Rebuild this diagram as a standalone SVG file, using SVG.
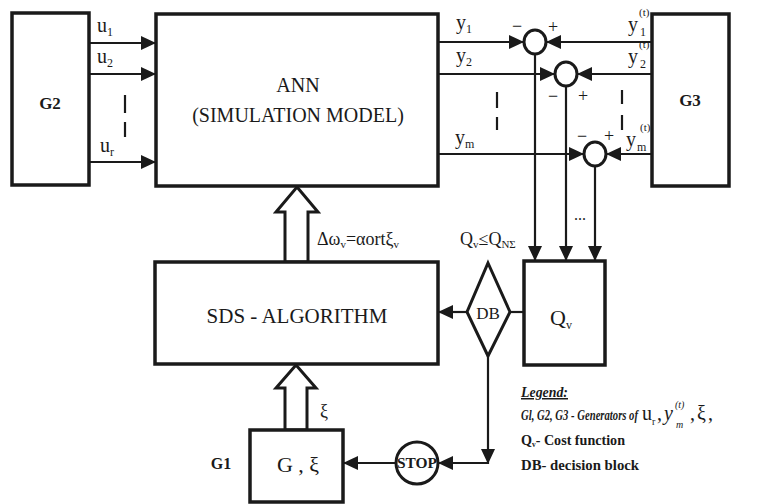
<svg xmlns="http://www.w3.org/2000/svg" width="758" height="504" viewBox="0 0 758 504">
<defs>
<marker id="ah" markerUnits="userSpaceOnUse" markerWidth="15" markerHeight="14" refX="15" refY="7" orient="auto">
<path d="M0,0 L15,7 L0,14 z" fill="#1a1a1a"/>
</marker>
</defs>
<style>
.box{fill:#fff;stroke:#1a1a1a;stroke-width:3.5}
.ln{fill:none;stroke:#1a1a1a;stroke-width:2.2}
.ar{marker-end:url(#ah)}
.t{font-family:'Liberation Serif','Tinos','Times New Roman','DejaVu Serif',serif;fill:#1a1a1a}
.b{font-weight:bold}
.m{text-anchor:middle}
.lg{font-family:'Liberation Serif','Tinos','Times New Roman','DejaVu Serif',serif;font-weight:bold;font-style:italic;font-size:15px;fill:#1a1a1a}
.lb{font-family:'Liberation Serif','Tinos','Times New Roman','DejaVu Serif',serif;font-weight:bold;font-size:15px;fill:#1a1a1a}
</style>
<rect width="758" height="504" fill="#fff"/>

<g id="connectors">
<line class="ln ar" x1="89" y1="43" x2="156" y2="43"/>
<line class="ln ar" x1="89" y1="74" x2="156" y2="74"/>
<line class="ln ar" x1="89" y1="162" x2="156" y2="162"/>
<line class="ln ar" x1="438" y1="42" x2="524" y2="42"/>
<line class="ln ar" x1="652" y1="42" x2="546" y2="42"/>
<line class="ln ar" x1="438" y1="74" x2="555" y2="74"/>
<line class="ln ar" x1="652" y1="74" x2="577" y2="74"/>
<line class="ln ar" x1="438" y1="154" x2="584" y2="154"/>
<line class="ln ar" x1="652" y1="154" x2="606" y2="154"/>
<line class="ln ar" x1="535" y1="54" x2="535" y2="261"/>
<line class="ln ar" x1="566" y1="86" x2="566" y2="261"/>
<line class="ln ar" x1="595" y1="166" x2="595" y2="261"/>
<line class="ln" x1="524" y1="312" x2="510" y2="312"/>
<line class="ln ar" x1="467" y1="312" x2="438" y2="312"/>
<line class="ln ar" x1="488" y1="356" x2="488" y2="464"/>
<line class="ln ar" x1="489" y1="463" x2="438" y2="463"/>
<line class="ln ar" x1="396" y1="463" x2="343" y2="463"/>
<polygon points="297,187 318,212 308,212 308,262 285,262 285,212 276,212" fill="#fff" stroke="#1a1a1a" stroke-width="3" stroke-linejoin="miter"/>
<polygon points="296,365 316,388 307,388 307,430 285,430 285,388 276,388" fill="#fff" stroke="#1a1a1a" stroke-width="3" stroke-linejoin="miter"/>
<g class="ln">
<line x1="125" y1="95" x2="125" y2="113"/>
<line x1="125" y1="122" x2="125" y2="137"/>
<line x1="497" y1="92" x2="497" y2="108"/>
<line x1="497" y1="117" x2="497" y2="130"/>
<line x1="622" y1="90" x2="622" y2="104"/>
<line x1="622" y1="115" x2="622" y2="130"/>
</g>
</g>

<g id="G2">
<rect class="box" x="12" y="13" width="77" height="172"/>
<text class="t b m" x="50" y="109" font-size="17">G2</text>
</g>

<g id="ANN">
<rect class="box" x="156" y="14" width="282" height="172"/>
<text class="t m" x="298" y="92" font-size="20">ANN</text>
<text class="t m" x="298" y="122" font-size="20">(SIMULATION MODEL)</text>
</g>

<g id="G3">
<rect class="box" x="652" y="14" width="77" height="172"/>
<text class="t b m" x="690" y="106" font-size="17">G3</text>
</g>

<g id="sum1">
<ellipse cx="535" cy="42" rx="11" ry="12" fill="#fff" stroke="#1a1a1a" stroke-width="3"/>
</g>
<g id="sum2">
<ellipse cx="566" cy="74" rx="11" ry="12" fill="#fff" stroke="#1a1a1a" stroke-width="3"/>
</g>
<g id="sum3">
<ellipse cx="595" cy="154" rx="11" ry="12" fill="#fff" stroke="#1a1a1a" stroke-width="3"/>
</g>

<g id="SDS">
<rect class="box" x="155" y="262" width="283" height="102"/>
<text class="t m" x="297" y="323" font-size="21">SDS - ALGORITHM</text>
</g>

<g id="Qv">
<rect class="box" x="524" y="261" width="81" height="104"/>
<text class="t" x="550" y="325" font-size="22">Q<tspan font-size="12" dy="4">v</tspan></text>
</g>

<g id="DB">
<polygon points="488,263 510,312 488,356 467,312" fill="#fff" stroke="#1a1a1a" stroke-width="3"/>
<text class="t m" x="488" y="319" font-size="17">DB</text>
</g>

<g id="STOP">
<ellipse cx="417" cy="463" rx="21" ry="21" fill="#fff" stroke="#1a1a1a" stroke-width="3"/>
<text class="t b m" x="417" y="468" font-size="14" textLength="40" lengthAdjust="spacingAndGlyphs">STOP</text>
</g>

<g id="G1">
<rect class="box" x="250" y="430" width="93" height="72"/>
<text class="t m" x="298" y="472" font-size="22">G , ξ</text>
<text class="t b m" x="221" y="469" font-size="16">G1</text>
</g>

<g id="labels">
<text class="t" x="97" y="32" font-size="20">u<tspan font-size="12" dy="4">1</tspan></text>
<text class="t" x="97" y="63" font-size="20">u<tspan font-size="12" dy="4">2</tspan></text>
<text class="t" x="100" y="152" font-size="20">u<tspan font-size="12" dy="4">r</tspan></text>
<text class="t" x="456" y="29" font-size="20">y<tspan font-size="12" dy="4">1</tspan></text>
<text class="t" x="456" y="62" font-size="20">y<tspan font-size="12" dy="4">2</tspan></text>
<text class="t" x="455" y="144" font-size="20">y<tspan font-size="12" dy="4">m</tspan></text>
<text class="t" x="628" y="31" font-size="20">y<tspan x="639" y="16" font-size="11">(t)</tspan><tspan x="640" y="36" font-size="12">1</tspan></text>
<text class="t" x="628" y="63" font-size="20">y<tspan x="639" y="48" font-size="11">(t)</tspan><tspan x="640" y="68" font-size="12">2</tspan></text>
<text class="t" x="626" y="146" font-size="20">y<tspan x="640" y="131" font-size="11">(t)</tspan><tspan x="637" y="151" font-size="12">m</tspan></text>
<text class="t m" x="517" y="32" font-size="18">−</text>
<text class="t m" x="553" y="33" font-size="18">+</text>
<text class="t m" x="553" y="102" font-size="18">−</text>
<text class="t m" x="583" y="102" font-size="18">+</text>
<text class="t m" x="582" y="142" font-size="18">−</text>
<text class="t m" x="609" y="142" font-size="18">+</text>
<text class="t m" x="580" y="220" font-size="16">...</text>
<text class="t" x="317" y="245" font-size="18">Δω<tspan font-size="11" dy="3">v</tspan><tspan dy="-3">=αortξ</tspan><tspan font-size="11" dy="3">v</tspan></text>
<text class="t" x="460" y="245" font-size="18">Q<tspan font-size="11" dy="3">v</tspan><tspan dy="-3">≤Q</tspan><tspan font-size="11" dy="3">NΣ</tspan></text>
<text class="t" x="320" y="417" font-size="18">ξ</text>
</g>

<g id="legend">
<text class="lg" x="521" y="397" textLength="47" lengthAdjust="spacingAndGlyphs" text-decoration="underline">Legend:</text>
<text class="lg" x="521" y="420" textLength="117" lengthAdjust="spacingAndGlyphs">Gl, G2, G3 - Generators of</text>
<text class="t" x="642" y="420" font-size="20">u<tspan x="652" y="425" font-size="10">r</tspan><tspan x="657" y="420">,</tspan><tspan x="664" y="420" font-style="italic">y</tspan><tspan x="675" y="408" font-size="10" font-style="italic">(t)</tspan><tspan x="676" y="428" font-size="10" font-style="italic">m</tspan><tspan x="690" y="420">,</tspan><tspan x="697" y="420">ξ</tspan><tspan x="708" y="420">,</tspan></text>
<text class="lb" x="521" y="445" textLength="104" lengthAdjust="spacingAndGlyphs">Q<tspan font-size="8" dy="2">v</tspan><tspan dy="-2">- Cost function</tspan></text>
<text class="lb" x="521" y="470" textLength="118" lengthAdjust="spacingAndGlyphs">DB- decision block</text>
</g>
</svg>
